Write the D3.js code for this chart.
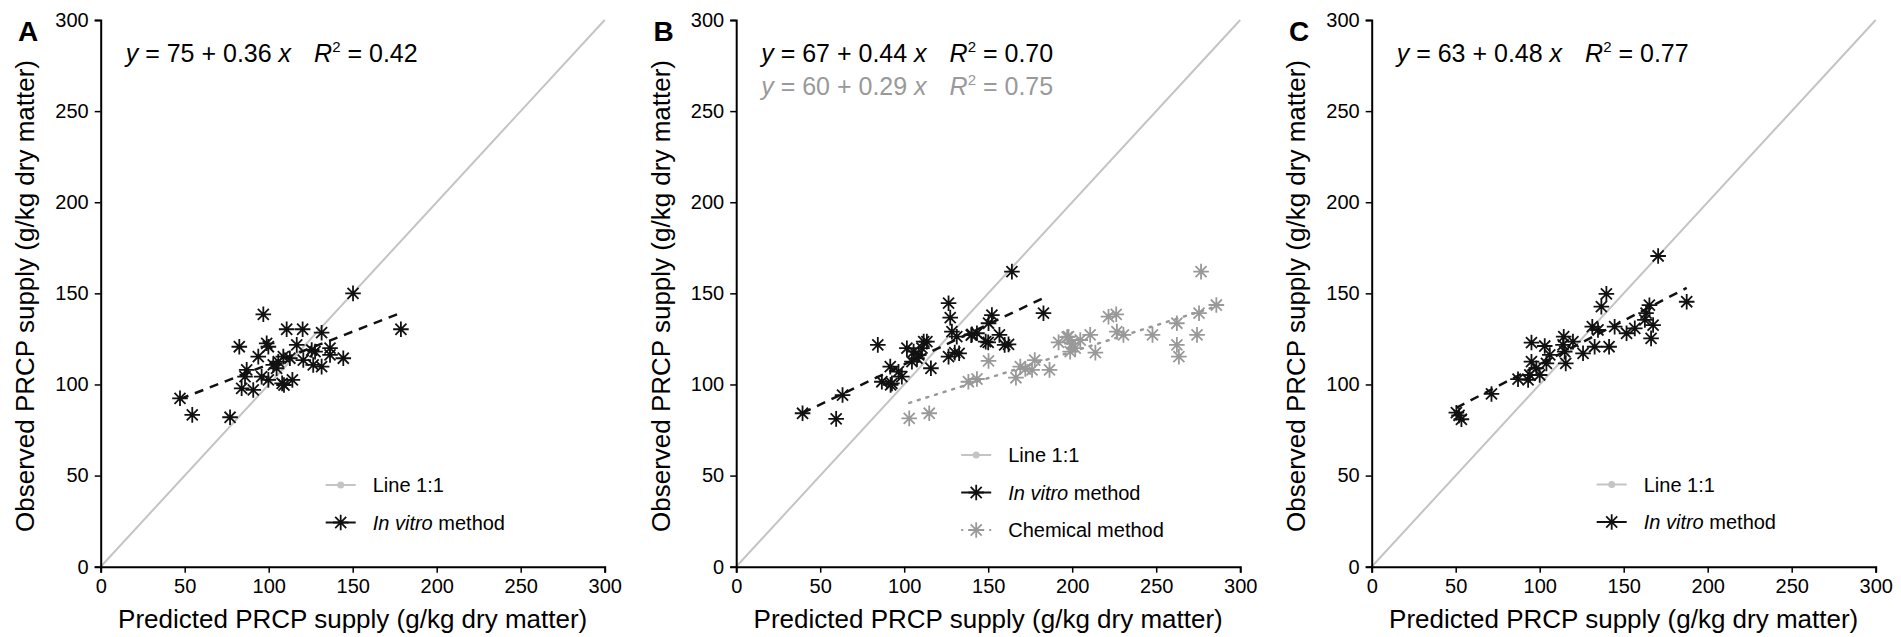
<!DOCTYPE html>
<html>
<head>
<meta charset="utf-8">
<script src="https://cdn.jsdelivr.net/npm/d3@7"></script>
<style>
  body { margin: 0; background: #fff; }
  svg { display: block; font-family: "Liberation Sans", Arial, sans-serif; }
</style>
</head>
<body>
<div id="container"></div>
<script>
// axis ticks shared by every panel
var TICKS = [0, 50, 100, 150, 200, 250, 300];
var PANEL_LETTERS = ["A", "B", "C"];
var X_TITLE = "Predicted PRCP supply (g/kg dry matter)";
var Y_TITLE = "Observed PRCP supply (g/kg dry matter)";

// panel A, in vitro method (predicted, observed)
var aPredicted = [96.8, 110.7, 120.2, 131.5, 82.5, 98.8, 99.8, 116.7, 125.6, 127.6, 136.5, 136.5,
  93.8, 108.7, 112.6, 102.7, 105.7, 126.5, 131.5, 86.9, 85.9, 95.8, 99.8, 83.9, 90.8, 109.1,
  114.1, 47.2, 54.5, 77.0, 150.2, 178.7, 104.7, 120.6, 144.4, 108.0];
var aObserved = [138.5, 130.3, 130.3, 128.4, 120.7, 122.6, 120.7, 121.7, 118.9, 118.0, 119.9, 116.2,
  115.3, 115.3, 114.4, 110.7, 112.5, 110.7, 109.8, 108.0, 104.3, 104.3, 102.5, 97.9, 97.0, 99.7,
  102.5, 92.4, 83.3, 82.0, 150.0, 130.3, 108.9, 113.4, 114.4, 100.6];

// panel B, in vitro method
var bVitroPredicted = [39.5, 59.5, 63.3, 84.3, 86.7, 92.7, 91.7, 96.6, 98.6, 101.6, 105.6, 108.6,
  104.6, 113.5, 110.6, 115.9, 126.4, 127.4, 128.4, 126.4, 132.7, 131.3, 139.9, 107.6, 164.1,
  152.2, 150.2, 182.9, 140.3, 143.3, 156.7, 150.0, 162.1, 130.1, 91.9, 111.6, 148.5, 159.8];
var bVitroObserved = [84.2, 81.1, 94.2, 121.7, 101.5, 100.6, 109.8, 107.0, 104.3, 119.9, 118.0, 116.2,
  112.5, 123.5, 119.9, 108.9, 144.6, 136.7, 129.0, 115.3, 117.1, 126.2, 127.1, 114.4, 161.9,
  138.1, 133.6, 139.1, 127.5, 128.1, 127.2, 123.1, 122.0, 117.5, 99.8, 123.5, 123.5, 121.7];

// panel B, chemical method
var bChemPredicted = [103.0, 114.9, 138.2, 143.3, 150.2, 166.5, 169.1, 172.1, 176.1, 177.7, 186.5,
  191.9, 197.8, 199.8, 201.8, 198.8, 204.8, 210.7, 213.8, 221.6, 226.2, 226.6, 230.5, 247.8,
  262.3, 262.3, 263.5, 274.3, 275.5, 285.8, 276.7, 197.0];
var bChemObserved = [81.4, 84.2, 101.5, 103.0, 112.9, 103.7, 109.8, 108.5, 108.0, 113.4, 108.0,
  123.1, 126.2, 122.4, 119.9, 118.0, 124.4, 127.2, 117.5, 137.2, 138.5, 129.0, 127.2, 127.2,
  133.6, 121.7, 115.3, 127.2, 139.1, 143.6, 161.9, 126.0];

// panel C, in vitro method
var cPredicted = [50.4, 53.4, 52.0, 71.3, 87.1, 93.1, 94.1, 95.1, 95.1, 98.0, 100.0, 103.0, 104.0,
  106.0, 114.3, 113.9, 114.9, 115.5, 119.8, 125.8, 132.7, 141.3, 131.3, 134.7, 136.7, 139.7,
  144.6, 151.7, 156.6, 162.6, 167.5, 166.3, 165.3, 187.5, 170.5, 163.3];
var cObserved = [84.5, 80.9, 83.0, 94.8, 102.9, 102.5, 105.2, 112.5, 123.0, 108.9, 105.2, 121.1, 111.6,
  116.2, 126.2, 121.7, 118.0, 111.6, 123.5, 117.1, 120.7, 120.7, 131.7, 129.9, 142.7, 149.7,
  131.7, 128.1, 130.8, 135.4, 132.6, 125.3, 143.5, 145.4, 170.5, 139.1];

// fitted regressions: intercept, slope, R2
var fitA = [75, 0.36, 0.42];
var fitBVitro = [67, 0.44, 0.70];
var fitBChem = [60, 0.29, 0.75];
var fitC = [63, 0.48, 0.77];

var BLACK = "#111";
var GREY = "#999";
var LIGHT = "#c4c4c4";

var width = 1901, height = 637;
var panelStep = 635.5;
var margin = {left: 100.7, top: 20};
var plotW = 504, plotH = 546.7;

var x = d3.scaleLinear().domain([0, 300]).range([0, plotW]);
var y = d3.scaleLinear().domain([0, 300]).range([plotH, 0]);

var svg = d3.select("#container")
  .append("svg")
    .attr("width", width)
    .attr("height", height);

function starPath(r) {
  var d = r / Math.SQRT2;
  return "M" + (-r) + ",0H" + r + "M0," + (-r) + "V" + r +
    "M" + (-d) + "," + (-d) + "L" + d + "," + d +
    "M" + (-d) + "," + d + "L" + d + "," + (-d);
}

function series(xs, ys, fit, color, dash, dotted) {
  return {
    points: xs.map((v, i) => ({x: v, y: ys[i]})),
    fit: fit, color: color, dash: dash, dotted: dotted
  };
}

var panels = [
  {series: [series(aPredicted, aObserved, fitA, BLACK, "9,7", false)],
   legend: ["line", "vitro"], legendTop: 465},
  {series: [series(bChemPredicted, bChemObserved, fitBChem, GREY, "2,7", true),
            series(bVitroPredicted, bVitroObserved, fitBVitro, BLACK, "9,7", false)],
   legend: ["line", "vitro", "chem"], legendTop: 435},
  {series: [series(cPredicted, cObserved, fitC, BLACK, "9,7", false)],
   legend: ["line", "vitro"], legendTop: 464.5}
];

function drawEquation(g, fit, color, ty) {
  var t = g.append("text")
    .attr("x", 25).attr("y", ty)
    .attr("fill", color)
    .style("font-size", "25px");
  t.append("tspan").style("font-style", "italic").text("y");
  t.append("tspan").text(" = " + fit[0] + " + " + fit[1].toFixed(2) + " ");
  t.append("tspan").style("font-style", "italic").text("x");
  t.append("tspan").attr("dx", 23).style("font-style", "italic").text("R");
  t.append("tspan").attr("dy", -10).style("font-size", "15px").text("2");
  t.append("tspan").attr("dy", 10).text(" = " + fit[2].toFixed(2));
}

panels.forEach((p, i) => {
  var g = svg.append("g")
    .attr("transform", "translate(" + (margin.left + i * panelStep) + "," + margin.top + ")");

  // 1:1 line
  g.append("line")
    .attr("x1", x(0)).attr("y1", y(0))
    .attr("x2", x(300)).attr("y2", y(300))
    .attr("stroke", LIGHT)
    .attr("stroke-width", 2);

  p.series.forEach(s => {
    var ext = d3.extent(s.points, d => d.x);
    g.append("line")
      .attr("x1", x(ext[0])).attr("y1", y(s.fit[0] + s.fit[1] * ext[0]))
      .attr("x2", x(ext[1])).attr("y2", y(s.fit[0] + s.fit[1] * ext[1]))
      .attr("stroke", s.color)
      .attr("stroke-width", 2.5)
      .attr("stroke-linecap", s.dotted ? "round" : "butt")
      .attr("stroke-dasharray", s.dash);

    g.append("g")
      .selectAll("path")
      .data(s.points)
      .join("path")
        .attr("transform", d => "translate(" + x(d.x) + "," + y(d.y) + ")")
        .attr("d", starPath(7.8))
        .attr("fill", "none")
        .attr("stroke", s.color)
        .attr("stroke-width", 1.8);
  });

  // axes
  var xAxis = g.append("g")
    .attr("transform", "translate(0," + plotH + ")")
    .call(d3.axisBottom(x).tickValues(TICKS).tickSizeOuter(0).tickSize(6).tickPadding(6));
  var yAxis = g.append("g")
    .call(d3.axisLeft(y).tickValues(TICKS).tickSizeOuter(0).tickSize(6).tickPadding(6));
  [xAxis, yAxis].forEach(a => {
    a.select(".domain").attr("stroke", "#000").attr("stroke-width", 2);
    a.selectAll(".tick line").attr("stroke", "#000").attr("stroke-width", 1.5);
    a.selectAll(".tick text")
      .attr("fill", "#000")
      .style("font-family", "'Liberation Sans', Arial, sans-serif")
      .style("font-size", "20px");
  });

  // axis titles
  g.append("text")
    .attr("x", plotW / 2).attr("y", 608)
    .attr("text-anchor", "middle")
    .style("font-size", "26px")
    .text(X_TITLE);
  g.append("text")
    .attr("transform", "translate(-66.7," + 276 + ")rotate(-90)")
    .attr("text-anchor", "middle")
    .style("font-size", "26px")
    .text(Y_TITLE);

  // panel letter
  g.append("text")
    .attr("x", -82.7).attr("y", 21)
    .style("font-size", "28px")
    .style("font-weight", "bold")
    .text(PANEL_LETTERS[i]);

  // equations
  var black = p.series.filter(s => !s.dotted);
  var grey = p.series.filter(s => s.dotted);
  black.forEach(s => drawEquation(g, s.fit, "#000", 42));
  grey.forEach(s => drawEquation(g, s.fit, GREY, 75));

  // legend
  var leg = g.append("g").attr("transform", "translate(0," + p.legendTop + ")");
  p.legend.forEach((key, k) => {
    var row = leg.append("g").attr("transform", "translate(0," + (k * 37.5) + ")");
    if (key == "line") {
      row.append("line").attr("x1", 225).attr("x2", 255)
        .attr("stroke", LIGHT).attr("stroke-width", 2);
      row.append("circle").attr("cx", 240).attr("r", 3.5).attr("fill", LIGHT);
      row.append("text").attr("x", 272).attr("y", 7).style("font-size", "20px").text("Line 1:1");
    } else {
      var col = key == "chem" ? GREY : BLACK;
      row.append("line").attr("x1", 225).attr("x2", 255)
        .attr("stroke", col).attr("stroke-width", 2)
        .attr("stroke-dasharray", key == "chem" ? "2,5" : null);
      row.append("path")
        .attr("transform", "translate(240,0)")
        .attr("d", starPath(7.8))
        .attr("fill", "none")
        .attr("stroke", col)
        .attr("stroke-width", 1.8);
      var t = row.append("text").attr("x", 272).attr("y", 7).style("font-size", "20px");
      if (key == "chem") {
        t.text("Chemical method");
      } else {
        t.append("tspan").style("font-style", "italic").text("In vitro");
        t.append("tspan").text(" method");
      }
    }
  });
});
</script>
</body>
</html>
